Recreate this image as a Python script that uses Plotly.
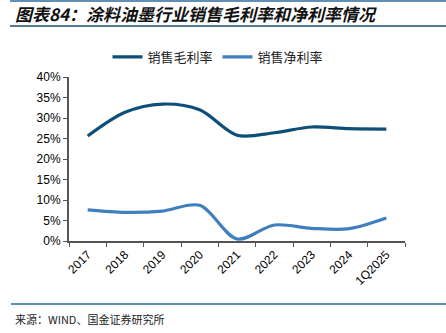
import plotly.graph_objects as go

categories = ["2017", "2018", "2019", "2020", "2021", "2022", "2023", "2024", "1Q2025"]
gross_margin = [25.6, 31.4, 33.4, 32.0, 25.8, 26.4, 27.8, 27.4, 27.3]
net_margin = [7.6, 7.0, 7.3, 8.7, 0.5, 3.9, 3.1, 3.0, 5.6]
series_names = ["销售毛利率", "销售净利率"]
y_ticks = [0, 5, 10, 15, 20, 25, 30, 35, 40]
y_tick_labels = [f"{v}%" for v in y_ticks]

L, R, T, B = 69, 41, 77, 92
W_PX, H_PX = 446, 333
PW = W_PX - L - R
PH = H_PX - T - B

def px_x(px):
    return (px - L) / PW

def px_y(py):
    return (H_PX - B - py) / PH

fig = go.Figure()
fig.add_trace(go.Scatter(x=categories, y=gross_margin, name=series_names[0], mode="lines",
                         line=dict(color="#0d4f78", width=3.2, shape="spline", smoothing=0.9)))
fig.add_trace(go.Scatter(x=categories, y=net_margin, name=series_names[1], mode="lines",
                         line=dict(color="#3f7fc0", width=3.2, shape="spline", smoothing=0.9)))

axis_color = "#555555"
fig.update_xaxes(type="category", range=[-0.5, 8.5], showline=True, linecolor=axis_color, linewidth=2,
                 ticks="outside", tickson="boundaries", ticklen=4, tickcolor=axis_color, tickwidth=1,
                 tickangle=-45, showgrid=False, zeroline=False,
                 tickfont=dict(family="Liberation Sans, Arial", size=12, color="#000000"))
fig.update_yaxes(range=[0, 40], tickmode="array", tickvals=y_ticks, ticktext=y_tick_labels,
                 showline=True, linecolor=axis_color,
                 linewidth=2, ticks="outside", ticklen=4, tickcolor=axis_color, tickwidth=1,
                 showgrid=False, zeroline=False,
                 tickfont=dict(family="Liberation Sans, Arial", size=12, color="#000000"))

line_color = "#2c6a9a"
shapes = [
    dict(type="line", xref="paper", yref="paper", x0=px_x(10), x1=px_x(446), y0=px_y(1), y1=px_y(1),
         line=dict(color=line_color, width=1.5)),
    dict(type="line", xref="paper", yref="paper", x0=px_x(10), x1=px_x(446), y0=px_y(26), y1=px_y(26),
         line=dict(color="#1d4e74", width=1.5)),
    dict(type="line", xref="paper", yref="paper", x0=px_x(11), x1=px_x(446), y0=px_y(304), y1=px_y(304),
         line=dict(color=line_color, width=1.5)),
]

annotations = [
    dict(text="<b><i>图表84：涂料油墨行业销售毛利率和净利率情况</i></b>", xref="paper", yref="paper",
         x=px_x(13), y=px_y(13), xanchor="left", yanchor="middle", showarrow=False,
         font=dict(family="Noto Sans CJK SC", size=17, color="#111111")),
    dict(text="来源：WIND、国金证券研究所", xref="paper", yref="paper",
         x=px_x(13), y=px_y(319), xanchor="left", yanchor="middle", showarrow=False,
         font=dict(family="Noto Sans CJK SC", size=11, color="#222222")),
]

fig.update_layout(
    width=W_PX, height=H_PX,
    margin=dict(l=L, r=R, t=T, b=B),
    paper_bgcolor="white", plot_bgcolor="white",
    showlegend=True,
    legend=dict(orientation="h", x=px_x(218), y=px_y(57), xanchor="center", yanchor="middle",
                font=dict(family="Noto Sans CJK SC", size=13, color="#222222"),
                itemwidth=30, tracegroupgap=0, bgcolor="rgba(0,0,0,0)"),
    shapes=shapes, annotations=annotations,
)

fig.write_html("out.html")
